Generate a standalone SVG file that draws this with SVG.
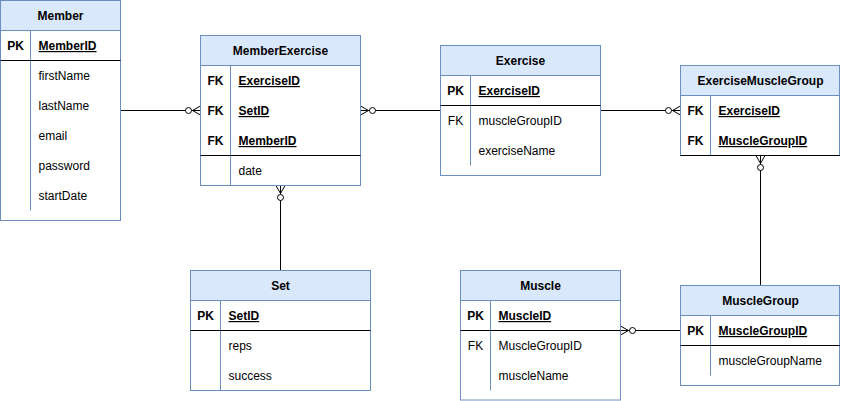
<svg xmlns="http://www.w3.org/2000/svg" width="841" height="401" viewBox="0 0 841 401">
<defs>
<style>
.box{fill:#ffffff;stroke:#6c8ebf;stroke-width:1}
.hdr{fill:#dae8fc;stroke:#6c8ebf;stroke-width:1}
.div{stroke:#6c8ebf;stroke-width:1;fill:none}
.sep{stroke:#000000;stroke-width:1;fill:none}
text{font-family:"Liberation Sans",Arial,Helvetica,sans-serif;font-size:12px;fill:#000000}
.t{font-weight:bold;text-anchor:middle}
.k{font-weight:bold;text-anchor:middle}
.kn{text-anchor:middle}
.kf{font-weight:bold;text-decoration:underline}
.conn{stroke:#000000;stroke-width:1;fill:none;marker-end:url(#zm)}
</style>
<marker id="zm" markerWidth="20" markerHeight="12" viewBox="-16 -6 20 12" refX="0" refY="0" orient="auto" markerUnits="userSpaceOnUse" overflow="visible">
<path d="M-8,0 L0,-4.5 M-8,0 L0,4.5 M-9,0 L0,0" fill="none" stroke="#000000" stroke-width="1"/>
<circle cx="-12" cy="0" r="3" fill="#ffffff" stroke="#000000" stroke-width="1"/>
</marker>
</defs>
<rect x="0" y="0" width="841" height="401" fill="#ffffff"/>

<g id="connectors">
<path class="conn" d="M120.5,110.5 H200.5"/>
<path class="conn" d="M440.5,110.5 H360.5"/>
<path class="conn" d="M600.5,110.5 H680.5"/>
<path class="conn" d="M280.5,270.5 V185.5"/>
<path class="conn" d="M760.5,285.5 V155.5"/>
<path class="conn" d="M680.5,330.5 H620.5"/>
</g>

<g id="Member">
<rect class="box" x="0.5" y="0.5" width="120" height="220"/>
<rect class="hdr" x="0.5" y="0.5" width="120" height="30"/>
<text class="t" x="60.5" y="20">Member</text>
<line class="div" x1="30.5" y1="30.5" x2="30.5" y2="210.5"/>
<line class="sep" x1="0.5" y1="60.5" x2="120.5" y2="60.5"/>
<text class="k" x="15.5" y="50">PK</text>
<text class="kf" x="38.5" y="50">MemberID</text>
<text x="38.5" y="80">firstName</text>
<text x="38.5" y="110">lastName</text>
<text x="38.5" y="140">email</text>
<text x="38.5" y="170">password</text>
<text x="38.5" y="200">startDate</text>
</g>

<g id="MemberExercise">
<rect class="box" x="200.5" y="35.5" width="160" height="150"/>
<rect class="hdr" x="200.5" y="35.5" width="160" height="30"/>
<text class="t" x="280.5" y="55">MemberExercise</text>
<line class="div" x1="230.5" y1="65.5" x2="230.5" y2="185.5"/>
<line class="sep" x1="200.5" y1="155.5" x2="360.5" y2="155.5"/>
<text class="k" x="215.5" y="85">FK</text>
<text class="kf" x="238.5" y="85">ExerciseID</text>
<text class="k" x="215.5" y="115">FK</text>
<text class="kf" x="238.5" y="115">SetID</text>
<text class="k" x="215.5" y="145">FK</text>
<text class="kf" x="238.5" y="145">MemberID</text>
<text x="238.5" y="175">date</text>
</g>

<g id="Exercise">
<rect class="box" x="440.5" y="45.5" width="160" height="130"/>
<rect class="hdr" x="440.5" y="45.5" width="160" height="30"/>
<text class="t" x="520.5" y="65">Exercise</text>
<line class="div" x1="470.5" y1="75.5" x2="470.5" y2="165.5"/>
<line class="sep" x1="440.5" y1="105.5" x2="600.5" y2="105.5"/>
<text class="k" x="455.5" y="95">PK</text>
<text class="kf" x="478.5" y="95">ExerciseID</text>
<text class="kn" x="455.5" y="125">FK</text>
<text x="478.5" y="125">muscleGroupID</text>
<text x="478.5" y="155">exerciseName</text>
</g>

<g id="ExerciseMuscleGroup">
<rect class="box" x="680.5" y="65.5" width="159" height="90"/>
<rect class="hdr" x="680.5" y="65.5" width="159" height="30"/>
<text class="t" x="760.5" y="85">ExerciseMuscleGroup</text>
<line class="div" x1="710.5" y1="95.5" x2="710.5" y2="155.5"/>
<line class="sep" x1="680.5" y1="155.5" x2="840" y2="155.5"/>
<text class="k" x="695.5" y="115">FK</text>
<text class="kf" x="718.5" y="115">ExerciseID</text>
<text class="k" x="695.5" y="145">FK</text>
<text class="kf" x="718.5" y="145">MuscleGroupID</text>
</g>

<g id="Set">
<rect class="box" x="190.5" y="270.5" width="180" height="120"/>
<rect class="hdr" x="190.5" y="270.5" width="180" height="30"/>
<text class="t" x="280.5" y="290">Set</text>
<line class="div" x1="220.5" y1="300.5" x2="220.5" y2="390.5"/>
<line class="sep" x1="190.5" y1="330.5" x2="370.5" y2="330.5"/>
<text class="k" x="205.5" y="320">PK</text>
<text class="kf" x="228.5" y="320">SetID</text>
<text x="228.5" y="350">reps</text>
<text x="228.5" y="380">success</text>
</g>

<g id="Muscle">
<rect class="box" x="460.5" y="270.5" width="160" height="129.5"/>
<rect class="hdr" x="460.5" y="270.5" width="160" height="30"/>
<text class="t" x="540.5" y="290">Muscle</text>
<line class="div" x1="490.5" y1="300.5" x2="490.5" y2="390.5"/>
<line class="sep" x1="460.5" y1="330.5" x2="620.5" y2="330.5"/>
<text class="k" x="475.5" y="320">PK</text>
<text class="kf" x="498.5" y="320">MuscleID</text>
<text class="kn" x="475.5" y="350">FK</text>
<text x="498.5" y="350">MuscleGroupID</text>
<text x="498.5" y="380">muscleName</text>
</g>

<g id="MuscleGroup">
<rect class="box" x="680.5" y="285.5" width="159" height="100"/>
<rect class="hdr" x="680.5" y="285.5" width="159" height="30"/>
<text class="t" x="760.5" y="305">MuscleGroup</text>
<line class="div" x1="710.5" y1="315.5" x2="710.5" y2="375.5"/>
<line class="sep" x1="680.5" y1="345.5" x2="840" y2="345.5"/>
<text class="k" x="695.5" y="335">PK</text>
<text class="kf" x="718.5" y="335">MuscleGroupID</text>
<text x="718.5" y="365">muscleGroupName</text>
</g>
</svg>
